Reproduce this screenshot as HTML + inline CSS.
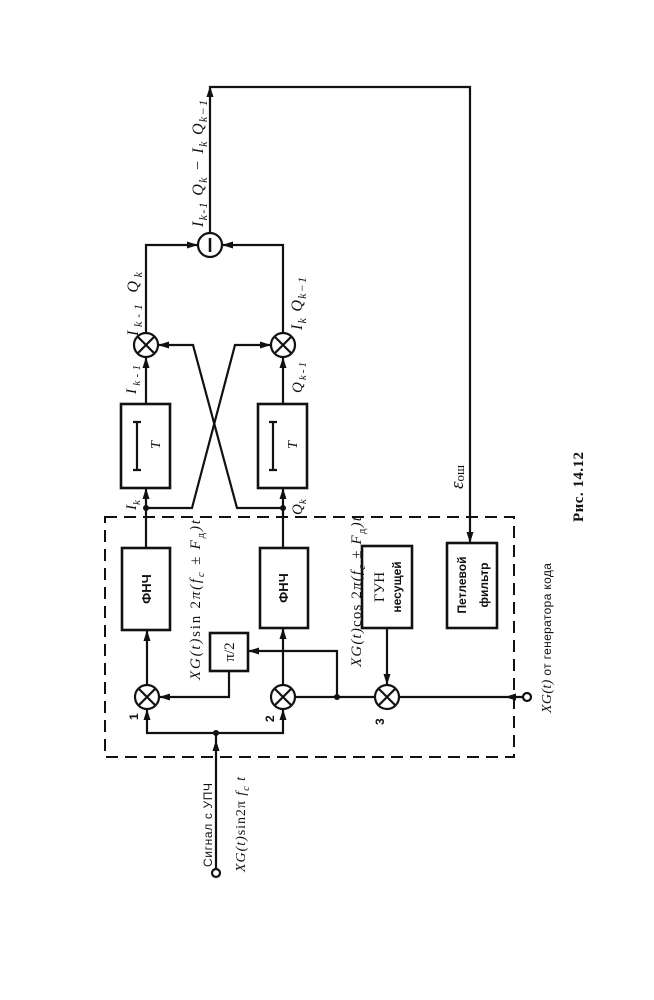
<!DOCTYPE html>
<html><head><meta charset="utf-8"><style>
html,body{margin:0;padding:0;background:#fff;}
svg{display:block;}
text{fill:#111;}
</style></head><body>
<svg width="654" height="1000" viewBox="0 0 654 1000" xmlns="http://www.w3.org/2000/svg">
<rect x="0" y="0" width="654" height="1000" fill="#fff"/>
<g stroke="#111" stroke-width="2.2" fill="none">
<!-- dashed box -->
<rect x="105" y="517" width="409" height="240" stroke-dasharray="12 7" stroke-width="2"/>
<!-- boxes -->
<rect x="122" y="548" width="48" height="82" stroke-width="2.6"/>
<rect x="260" y="548" width="48" height="80" stroke-width="2.6"/>
<rect x="362" y="546" width="50" height="82" stroke-width="2.6"/>
<rect x="447" y="543" width="50" height="85" stroke-width="2.6"/>
<rect x="210" y="633" width="38" height="38" stroke-width="2.6"/>
<rect x="121" y="404" width="49" height="84" stroke-width="2.6"/>
<rect x="258" y="404" width="49" height="84" stroke-width="2.6"/>
<!-- T bars -->
<path d="M137 422V470M133 422H141M133 470H141"/>
<path d="M273 422V470M269 422H277M269 470H277"/>
<!-- multipliers -->
<circle cx="147" cy="697" r="12"/>
<path d="M138.5 688.5L155.5 705.5M155.5 688.5L138.5 705.5"/>
<circle cx="283" cy="697" r="12"/>
<path d="M274.5 688.5L291.5 705.5M291.5 688.5L274.5 705.5"/>
<circle cx="387" cy="697" r="12"/>
<path d="M378.5 688.5L395.5 705.5M395.5 688.5L378.5 705.5"/>
<circle cx="146" cy="345" r="12"/>
<path d="M137.5 336.5L154.5 353.5M154.5 336.5L137.5 353.5"/>
<circle cx="283" cy="345" r="12"/>
<path d="M274.5 336.5L291.5 353.5M291.5 336.5L274.5 353.5"/>
<!-- subtractor -->
<circle cx="210" cy="245" r="12"/>
<path d="M210 238V252" stroke-width="2.5"/>
<!-- left column -->
<path d="M147 685V630"/>
<path d="M146 548V488"/>
<path d="M146 404V357"/>
<path d="M146 333V245H198"/>
<!-- right column -->
<path d="M283 685V628"/>
<path d="M283 548V488"/>
<path d="M283 404V357"/>
<path d="M283 333V245H222"/>
<!-- output / feedback -->
<path d="M210 233V87H470V543"/>
<!-- cross lines -->
<path d="M146 508H192L235 345H270"/>
<path d="M283 508H237L193 345H157"/>
<!-- bottom distribution -->
<path d="M147 709V733H283V709"/>
<path d="M216 869V733"/>
<circle cx="216" cy="873" r="4"/>
<!-- mult2 to mult3 and pi/2 -->
<path d="M295 697H375"/>
<path d="M337 697V651H248"/>
<path d="M229 671V697H159"/>
<path d="M399 697H523"/>
<circle cx="527" cy="697" r="4"/>
<path d="M387 628V685"/>
</g>
<!-- junction dots -->
<g fill="#111">
<circle cx="146" cy="508" r="3"/>
<circle cx="283" cy="508" r="3"/>
<circle cx="216" cy="733" r="3"/>
<circle cx="337" cy="697" r="3"/>
<!-- arrows up -->
<polygon points="147,709 143.5,720 150.5,720"/>
<polygon points="283,709 279.5,720 286.5,720"/>
<polygon points="147,630 143.5,641 150.5,641"/>
<polygon points="283,628 279.5,639 286.5,639"/>
<polygon points="146,488 142.5,499 149.5,499"/>
<polygon points="283,488 279.5,499 286.5,499"/>
<polygon points="146,357 142.5,368 149.5,368"/>
<polygon points="283,357 279.5,368 286.5,368"/>
<polygon points="210,86 206.5,97 213.5,97"/>
<polygon points="216,740 212.5,751 219.5,751"/>
<!-- arrows down -->
<polygon points="387,685 383.5,674 390.5,674"/>
<polygon points="470,543 466.5,532 473.5,532"/>
<!-- arrows left -->
<polygon points="159,697 170,693.5 170,700.5"/>
<polygon points="248,651 259,647.5 259,654.5"/>
<polygon points="158,345 169,341.5 169,348.5"/>
<polygon points="222,245 233,241.5 233,248.5"/>
<polygon points="505,697 516,693.5 516,700.5"/>
<!-- arrows right -->
<polygon points="271,345 260,341.5 260,348.5"/>
<polygon points="198,245 187,241.5 187,248.5"/>
</g>

<!-- box labels -->
<g font-family="Liberation Sans, sans-serif" font-weight="bold" text-anchor="middle">
<text transform="translate(151,589) rotate(-90)" font-size="13">ФНЧ</text>
<text transform="translate(288,588) rotate(-90)" font-size="13">ФНЧ</text>
<text transform="translate(384,587) rotate(-90)" font-size="15" font-family="Liberation Serif, serif" font-weight="normal">ГУН</text>
<text transform="translate(401,587) rotate(-90)" font-size="12">несущей</text>
<text transform="translate(466,585) rotate(-90)" font-size="12">Петлевой</text>
<text transform="translate(488,585) rotate(-90)" font-size="12">фильтр</text>
</g>
<g font-family="Liberation Serif, serif" text-anchor="middle">
<text transform="translate(234,652) rotate(-90)" font-size="15">π/2</text>
<text transform="translate(160,445) rotate(-90)" font-size="14" font-style="italic">T</text>
<text transform="translate(297,445) rotate(-90)" font-size="14" font-style="italic">T</text>
</g>

<!-- math labels -->
<g font-family="Liberation Serif, serif" font-size="15" font-style="italic">
<text transform="translate(200,680) rotate(-90)" textLength="160" lengthAdjust="spacing">XG(t)<tspan font-style="normal">sin 2</tspan>π(f<tspan dy="4" font-size="11">c</tspan><tspan dy="-4"> ± F</tspan><tspan dy="4" font-size="11" font-style="normal">д</tspan><tspan dy="-4">)t</tspan></text>
<text transform="translate(361,667) rotate(-90)" textLength="150" lengthAdjust="spacing">XG(t)<tspan font-style="normal">cos 2</tspan>π(f<tspan dy="4" font-size="11">c</tspan><tspan dy="-4"> ± F</tspan><tspan dy="4" font-size="11" font-style="normal">д</tspan><tspan dy="-4">)t</tspan></text>
<text transform="translate(203,227) rotate(-90)" textLength="127" lengthAdjust="spacing" font-size="16">I<tspan dy="4" font-size="12">k-1</tspan><tspan dy="-4"> Q</tspan><tspan dy="4" font-size="12">k</tspan><tspan dy="-4"> − I</tspan><tspan dy="4" font-size="12">k</tspan><tspan dy="-4"> Q</tspan><tspan dy="4" font-size="12">k−1</tspan></text>
<text transform="translate(138,336) rotate(-90)" textLength="64" lengthAdjust="spacing" font-size="16">I<tspan dy="4" font-size="12">k-1</tspan><tspan dy="-4"> Q</tspan><tspan dy="4" font-size="12">k</tspan></text>
<text transform="translate(302,330) rotate(-90)" textLength="53" lengthAdjust="spacing" font-size="16">I<tspan dy="4" font-size="12">k</tspan><tspan dy="-4"> Q</tspan><tspan dy="4" font-size="12">k−1</tspan></text>
<text transform="translate(136,394) rotate(-90)" textLength="29" lengthAdjust="spacing">I<tspan dy="4" font-size="11">k-1</tspan></text>
<text transform="translate(302,393) rotate(-90)" textLength="31" lengthAdjust="spacing">Q<tspan dy="4" font-size="11">k-1</tspan></text>
<text transform="translate(136,510) rotate(-90)">I<tspan dy="4" font-size="11">k</tspan></text>
<text transform="translate(302,515) rotate(-90)">Q<tspan dy="4" font-size="11">k</tspan></text>
<text transform="translate(463,489) rotate(-90)" font-size="19">ε<tspan dy="1" font-size="13" font-style="normal">ош</tspan></text>
<text transform="translate(245,872) rotate(-90)" textLength="95" lengthAdjust="spacing" font-size="14">XG(t)<tspan font-style="normal">sin2π </tspan>f<tspan dy="4" font-size="10">c</tspan><tspan dy="-4"> t</tspan></text>
</g>

<!-- numbers -->
<g font-family="Liberation Sans, sans-serif" font-size="12" font-weight="bold">
<text transform="translate(138,720) rotate(-90)">1</text>
<text transform="translate(274,722) rotate(-90)">2</text>
<text transform="translate(384,725) rotate(-90)">3</text>
</g>

<!-- other labels -->
<text transform="translate(212,867) rotate(-90)" font-family="Liberation Sans, sans-serif" font-size="12" textLength="84" lengthAdjust="spacing">Сигнал с УПЧ</text>
<text transform="translate(551,713) rotate(-90)" font-family="Liberation Sans, sans-serif" font-size="12" textLength="150" lengthAdjust="spacing"><tspan font-family="Liberation Serif, serif" font-style="italic" font-size="14">XG(t)</tspan>  от генератора кода</text>
<text transform="translate(583,522) rotate(-90)" font-family="Liberation Serif, serif" font-size="15" font-weight="bold" textLength="70" lengthAdjust="spacing">Рис. 14.12</text>
</svg>
</body></html>
